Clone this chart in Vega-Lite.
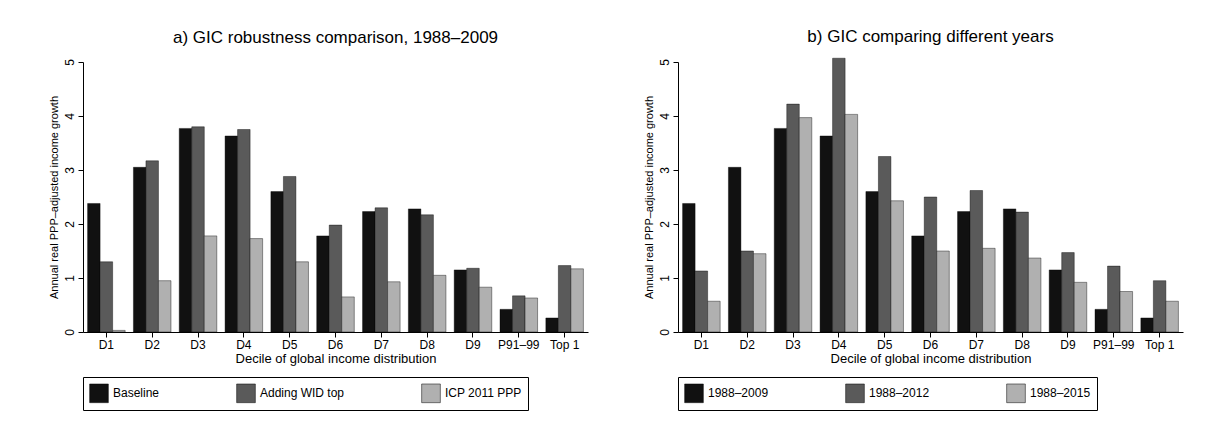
{
  "$schema": "https://vega.github.io/schema/vega-lite/v6.json",
  "background": "white",
  "padding": {"left": 48, "top": 28, "right": 5, "bottom": 5},
  "config": {
    "font": "Liberation Sans",
    "view": {"stroke": null},
    "concat": {"spacing": 55},
    "title": {"fontSize": 17, "fontWeight": "normal", "color": "#000", "offset": 12},
    "axis": {"labelFontSize": 12, "titleFontSize": 13, "labelColor": "#000", "titleColor": "#000", "domainColor": "#000", "tickColor": "#000", "titleFontWeight": "normal"},
    "legend": {"orient": "bottom", "direction": "horizontal", "title": null, "labelFontSize": 12, "symbolType": "square", "symbolSize": 350, "symbolStrokeWidth": 0.5, "symbolStrokeColor": "#000", "columnPadding": 75, "strokeColor": "#000", "padding": 6, "offset": 12, "labelLimit": 200}
  },
  "datasets": {
    "a": [
      {"d": "D1", "s": "Baseline", "v": 2.38}, {"d": "D1", "s": "Adding WID top", "v": 1.3}, {"d": "D1", "s": "ICP 2011 PPP", "v": 0.03},
      {"d": "D2", "s": "Baseline", "v": 3.05}, {"d": "D2", "s": "Adding WID top", "v": 3.17}, {"d": "D2", "s": "ICP 2011 PPP", "v": 0.95},
      {"d": "D3", "s": "Baseline", "v": 3.77}, {"d": "D3", "s": "Adding WID top", "v": 3.8}, {"d": "D3", "s": "ICP 2011 PPP", "v": 1.78},
      {"d": "D4", "s": "Baseline", "v": 3.63}, {"d": "D4", "s": "Adding WID top", "v": 3.75}, {"d": "D4", "s": "ICP 2011 PPP", "v": 1.73},
      {"d": "D5", "s": "Baseline", "v": 2.6}, {"d": "D5", "s": "Adding WID top", "v": 2.88}, {"d": "D5", "s": "ICP 2011 PPP", "v": 1.3},
      {"d": "D6", "s": "Baseline", "v": 1.78}, {"d": "D6", "s": "Adding WID top", "v": 1.98}, {"d": "D6", "s": "ICP 2011 PPP", "v": 0.65},
      {"d": "D7", "s": "Baseline", "v": 2.23}, {"d": "D7", "s": "Adding WID top", "v": 2.3}, {"d": "D7", "s": "ICP 2011 PPP", "v": 0.93},
      {"d": "D8", "s": "Baseline", "v": 2.28}, {"d": "D8", "s": "Adding WID top", "v": 2.17}, {"d": "D8", "s": "ICP 2011 PPP", "v": 1.05},
      {"d": "D9", "s": "Baseline", "v": 1.15}, {"d": "D9", "s": "Adding WID top", "v": 1.18}, {"d": "D9", "s": "ICP 2011 PPP", "v": 0.83},
      {"d": "P91–99", "s": "Baseline", "v": 0.42}, {"d": "P91–99", "s": "Adding WID top", "v": 0.67}, {"d": "P91–99", "s": "ICP 2011 PPP", "v": 0.63},
      {"d": "Top 1", "s": "Baseline", "v": 0.26}, {"d": "Top 1", "s": "Adding WID top", "v": 1.23}, {"d": "Top 1", "s": "ICP 2011 PPP", "v": 1.17}
    ],
    "b": [
      {"d": "D1", "s": "1988–2009", "v": 2.38}, {"d": "D1", "s": "1988–2012", "v": 1.13}, {"d": "D1", "s": "1988–2015", "v": 0.57},
      {"d": "D2", "s": "1988–2009", "v": 3.05}, {"d": "D2", "s": "1988–2012", "v": 1.5}, {"d": "D2", "s": "1988–2015", "v": 1.45},
      {"d": "D3", "s": "1988–2009", "v": 3.77}, {"d": "D3", "s": "1988–2012", "v": 4.22}, {"d": "D3", "s": "1988–2015", "v": 3.97},
      {"d": "D4", "s": "1988–2009", "v": 3.63}, {"d": "D4", "s": "1988–2012", "v": 5.07}, {"d": "D4", "s": "1988–2015", "v": 4.03},
      {"d": "D5", "s": "1988–2009", "v": 2.6}, {"d": "D5", "s": "1988–2012", "v": 3.25}, {"d": "D5", "s": "1988–2015", "v": 2.43},
      {"d": "D6", "s": "1988–2009", "v": 1.78}, {"d": "D6", "s": "1988–2012", "v": 2.5}, {"d": "D6", "s": "1988–2015", "v": 1.5},
      {"d": "D7", "s": "1988–2009", "v": 2.23}, {"d": "D7", "s": "1988–2012", "v": 2.62}, {"d": "D7", "s": "1988–2015", "v": 1.55},
      {"d": "D8", "s": "1988–2009", "v": 2.28}, {"d": "D8", "s": "1988–2012", "v": 2.22}, {"d": "D8", "s": "1988–2015", "v": 1.37},
      {"d": "D9", "s": "1988–2009", "v": 1.15}, {"d": "D9", "s": "1988–2012", "v": 1.47}, {"d": "D9", "s": "1988–2015", "v": 0.92},
      {"d": "P91–99", "s": "1988–2009", "v": 0.42}, {"d": "P91–99", "s": "1988–2012", "v": 1.22}, {"d": "P91–99", "s": "1988–2015", "v": 0.75},
      {"d": "Top 1", "s": "1988–2009", "v": 0.26}, {"d": "Top 1", "s": "1988–2012", "v": 0.95}, {"d": "Top 1", "s": "1988–2015", "v": 0.57}
    ]
  },
  "hconcat": [
    {
      "title": "a) GIC robustness comparison, 1988–2009",
      "data": {"name": "a"},
      "width": 505, "height": 270,
      "mark": {"type": "bar", "stroke": "#000", "strokeWidth": 0.4},
      "encoding": {
        "x": {"field": "d", "type": "nominal", "sort": null, "title": "Decile of global income distribution",
              "scale": {"paddingInner": 0.18, "paddingOuter": 0.1}, "axis": {"labelAngle": 0, "titlePadding": 2}},
        "xOffset": {"field": "s", "type": "nominal", "scale": {"domain": ["Baseline", "Adding WID top", "ICP 2011 PPP"], "paddingInner": 0, "paddingOuter": 0}},
        "y": {"field": "v", "type": "quantitative", "title": "Annual real PPP–adjusted income growth",
              "scale": {"domain": [0, 5]}, "axis": {"values": [0,1,2,3,4,5], "grid": false, "labelAngle": -90, "labelAlign": "center", "labelBaseline": "bottom", "titleFontSize": 11}},
        "color": {"field": "s", "type": "nominal",
                  "scale": {"domain": ["Baseline", "Adding WID top", "ICP 2011 PPP"], "range": ["#111111", "#5a5a5a", "#b0b0b0"]}}
      }
    },
    {
      "title": "b) GIC comparing different years",
      "data": {"name": "b"},
      "width": 505, "height": 270,
      "mark": {"type": "bar", "stroke": "#000", "strokeWidth": 0.4},
      "encoding": {
        "x": {"field": "d", "type": "nominal", "sort": null, "title": "Decile of global income distribution",
              "scale": {"paddingInner": 0.18, "paddingOuter": 0.1}, "axis": {"labelAngle": 0, "titlePadding": 2}},
        "xOffset": {"field": "s", "type": "nominal", "scale": {"paddingInner": 0, "paddingOuter": 0}},
        "y": {"field": "v", "type": "quantitative", "title": "Annual real PPP–adjusted income growth",
              "scale": {"domain": [0, 5]}, "axis": {"values": [0,1,2,3,4,5], "grid": false, "labelAngle": -90, "labelAlign": "center", "labelBaseline": "bottom", "titleFontSize": 11}},
        "color": {"field": "s", "type": "nominal",
                  "scale": {"range": ["#111111", "#5a5a5a", "#b0b0b0"]}}
      }
    }
  ],
  "resolve": {"scale": {"color": "independent", "xOffset": "independent"}, "legend": {"color": "independent"}}
}
